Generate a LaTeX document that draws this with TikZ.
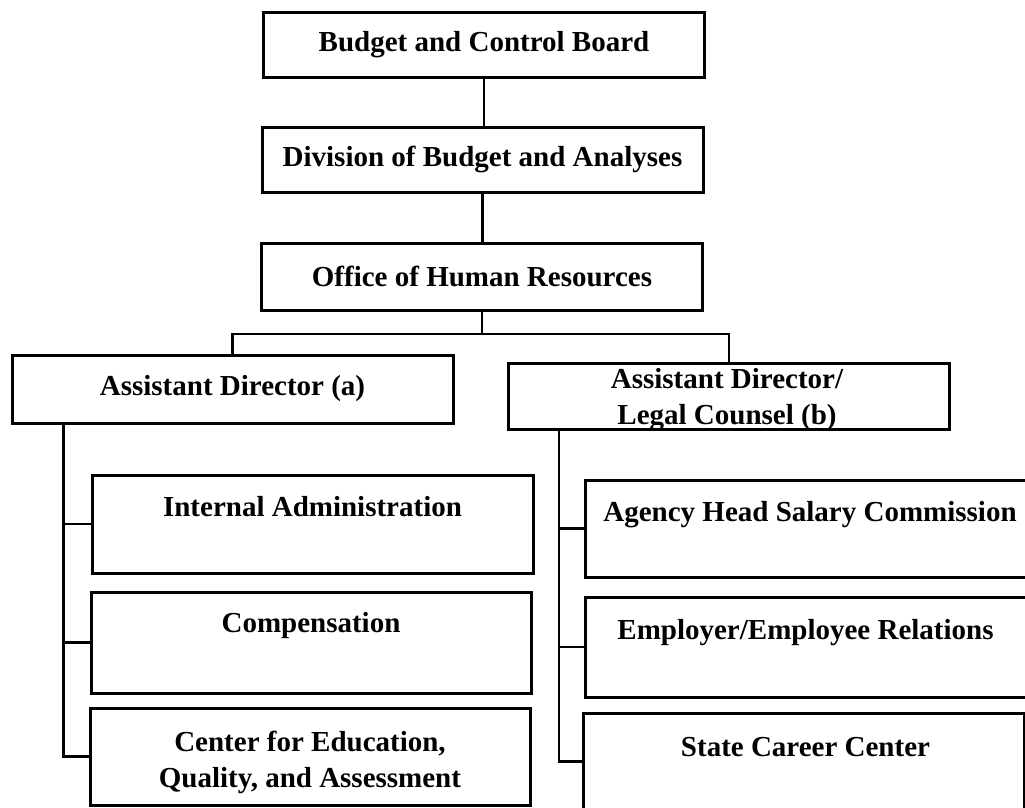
\documentclass[tikz,border=0pt]{standalone}
\usepackage{fontspec}
\setmainfont{Liberation Serif}
\usetikzlibrary{calc}
\definecolor{BoxClr}{rgb}{0,0,0}
\tikzset{
  OrgBox/.style={draw=BoxClr,line width=3pt,minimum width=441pt,inner sep=0pt,
    font=\bfseries\fontsize{29}{36}\selectfont,align=center},
  OrgText/.style={inner sep=0pt,font=\bfseries\fontsize{29}{36}\selectfont,align=center},
  OrgLine/.style={draw=BoxClr,line width=2.2pt},
}

\begin{document}
\begin{tikzpicture}[x=1pt,y=-1pt]
\useasboundingbox (0,0) rectangle (1025,807);
\clip (0,0) rectangle (1025,807);

\node[OrgBox,minimum height=65pt] (BCB) at (484,44.5) {Budget and Control Board};
\node[OrgBox,minimum height=65pt] (DBA) at (482.5,159.5) {Division of Budget and Analyses};
\node[OrgBox,minimum height=67pt] (OHR) at (482,276.5) {Office of Human Resources};

\node[OrgBox,minimum height=68pt] (ADa) at (232.5,389) {Assistant Director (a)};
\node[OrgBox,minimum height=66pt] (ADb) at (729,396) {};

\node[OrgBox,minimum height=98pt] (IA) at (312.5,524) {};
\node[OrgBox,minimum width=440pt,minimum height=101pt] (COM) at (311,642.5) {};
\node[OrgBox,minimum width=440pt,minimum height=97pt] (CEQ) at (310,756.5) {};

\node[OrgBox,minimum height=97pt] (AHS) at (805.5,528.5) {};
\node[OrgBox,minimum height=100pt] (EER) at (805.5,647) {};
\node[OrgBox,minimum height=97pt] (SCC) at (803.5,761.5) {};

\node[OrgText] (ADbt) at (727,400) {Assistant Director/\\Legal Counsel (b)};
\node[OrgText] (IAt) at (312.5,507) {Internal Administration};
\node[OrgText] (COMt) at (311,626) {Compensation};
\node[OrgText] (CEQt) at (310,762.5) {Center for Education,\\Quality, and Assessment};
\node[OrgText] (AHSt) at (810,515) {Agency Head Salary Commission};
\node[OrgText] (EERt) at (805.5,633) {Employer/Employee Relations};
\node[OrgText] (SCCt) at (805.5,747) {State Career Center};

% upper chain
\draw[OrgLine] (BCB.south) -- (BCB.south |- DBA.north);
\draw[OrgLine] (DBA.south) -- (DBA.south |- OHR.north);

\coordinate (Bar) at (482,334);
\draw[OrgLine] (OHR.south) -- (OHR.south |- Bar);
\draw[OrgLine] (ADa.north) -- (ADa.north |- Bar) -- (ADb.north |- Bar) -- (ADb.north);

% left branch
\draw[OrgLine] ($(ADa.south west)+(53,0)$) coordinate (LT) |- (CEQ.west);
\draw[OrgLine] (LT |- IA.west) -- (IA.west);
\draw[OrgLine] (LT |- COM.west) -- (COM.west);

% right branch
\draw[OrgLine] ($(ADb.south west)+(52,0)$) coordinate (RT) |- (SCC.west);
\draw[OrgLine] (RT |- AHS.west) -- (AHS.west);
\draw[OrgLine] (RT |- EER.west) -- (EER.west);

\end{tikzpicture}
\end{document}
